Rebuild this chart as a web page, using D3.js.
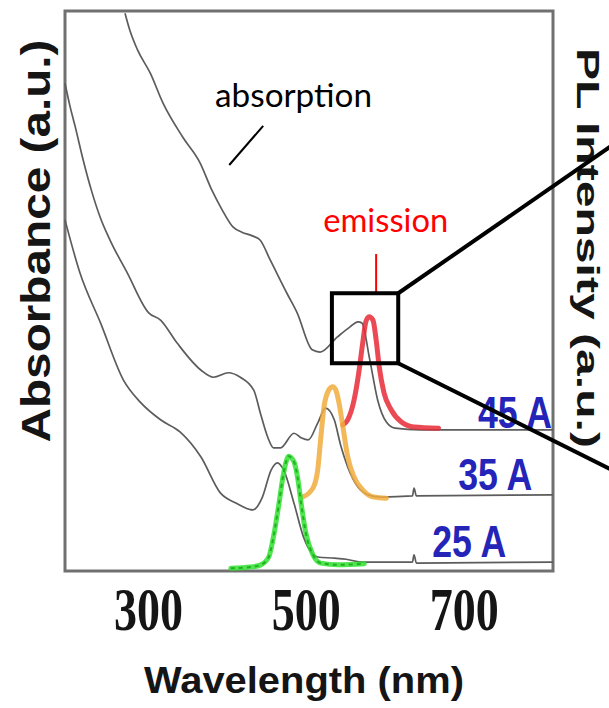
<!DOCTYPE html>
<html>
<head>
<meta charset="utf-8">
<script src="https://cdnjs.cloudflare.com/ajax/libs/d3/7.8.5/d3.min.js"></script>
<style>
    body { margin: 0; background: #ffffff; }
</style>
</head>
<body>
<div id="chart1"></div>
<script>
// absorption spectra, [wavelength nm, absorbance a.u.]
let abs45 = [[271,99.6],[277,96.6],[287,93.0],[303,88.9],[319,83.6],[344,77.5],[366,72.9],[381,68.0],[394,64.5],
    [408,61.4],[419,60.5],[433,59.8],[442,59.1],[455,55.5],[476,49.6],[489,46.1],[508,39.5],[518,39.1],[540,41.8],
    [556,43.6],[566,44.5],[571,44.3],[581,37.7],[591,30.5],[602,26.6],[613,25.5],[645,25.2],[813,25.2]];
let abs35 = [[195,87.1],[201,83.2],[208,79.3],[218,73.4],[229,67.7],[240,63.0],[252,59.1],[274,53.2],[301,46.1],
    [316,44.8],[337,40.7],[367,35.9],[383,34.6],[402,35.4],[417,34.6],[434,32.3],[443,27.9],[452,23.8],[459,22.0],
    [468,22.0],[485,24.6],[494,23.8],[503,23.4],[515,26.4],[525,29.1],[536,27.0],[544,22.5],[553,18.6],[566,15.0],
    [579,13.6],[595,13.2],[635,13.4],[637,14.8],[640,13.4],[813,13.6]];
let abs25 = [[195,62.7],[214,53.2],[240,44.3],[269,34.1],[290,30.2],[316,27.0],[341,24.8],[367,20.4],[392,13.9],
    [412,12.1],[433,10.9],[445,13.2],[456,18.0],[464,19.3],[472,18.0],[485,12.1],[497,6.1],[515,2.5],[536,2.3],
    [551,2.1],[570,1.6],[635,1.6],[637,2.9],[640,1.4],[813,1.6]];

// PL emission spectra, [wavelength nm, intensity a.u.]
let pl25 = [[405,0.5],[430,0.7],[443,1.1],[453,2.5],[459,6.1],[466,12.1],[471,16.8],[475,19.5],[478,20.5],
    [485,19.5],[490,16.3],[494,12.1],[500,6.8],[509,2.9],[519,1.4],[541,1.1],[574,1.3]];
let pl35 = [[496,13.2],[509,14.8],[515,18.0],[519,23.9],[523,29.3],[529,32.3],[534,32.9],[538,32.3],[542,30.0],
    [547,25.7],[553,20.4],[561,16.8],[572,14.5],[586,13.2],[602,13.0]];
let pl45 = [[547,26.1],[553,27.0],[561,30.5],[567,35.4],[572,40.7],[576,44.5],[580,45.4],[585,44.8],[589,41.3],
    [593,36.4],[599,31.8],[608,28.8],[621,26.6],[637,25.7],[668,25.5]];

let xTicks = [300, 500, 700];
let sizeLabels = ["45 A", "35 A", "25 A"];

let width = 609;
let height = 708;
let plotLeft = 65, plotRight = 553, plotTop = 11, plotBottom = 571;

let svg = d3.select("#chart1")
    .append("svg")
    .attr("width", width)
    .attr("height", height);

let x = d3.scaleLinear().domain([195, 813]).range([plotLeft, plotRight]);
let y = d3.scaleLinear().domain([0, 100]).range([plotBottom, plotTop]);

let line = d3.line()
    .x((d) => x(d[0]))
    .y((d) => y(d[1]))
    .curve(d3.curveMonotoneX);

// frame
svg.append("rect")
    .attr("x", plotLeft)
    .attr("y", plotTop)
    .attr("width", plotRight - plotLeft)
    .attr("height", plotBottom - plotTop)
    .style("fill", "none")
    .style("stroke", "#707070")
    .style("stroke-width", 3);

// absorption curves
svg.selectAll(".abs")
    .data([abs45, abs35, abs25])
    .enter().append("path")
    .attr("class", "abs")
    .attr("d", line)
    .style("fill", "none")
    .style("stroke", "#5c5c5c")
    .style("stroke-width", 1.7);

// emission curves
let plColors = ["#e82a36", "#f0ac3c", "#2fe02f"];
svg.selectAll(".pl")
    .data([pl45, pl35, pl25])
    .enter().append("path")
    .attr("class", "pl")
    .attr("d", line)
    .style("fill", "none")
    .style("stroke", (d, i) => plColors[i])
    .style("stroke-width", 5)
    .style("stroke-linecap", "round")
    .style("opacity", 0.85);

// dashed texture on the green peak
svg.append("path")
    .attr("d", line(pl25))
    .style("fill", "none")
    .style("stroke", "#22b022")
    .style("stroke-width", 2)
    .style("stroke-dasharray", "4,4");

// x axis labels
let xAxis = svg.append("g")
    .attr("transform", "translate(0," + plotBottom + ")")
    .call(d3.axisBottom(x).tickValues(xTicks).tickSize(0).tickPadding(0));
xAxis.select(".domain").remove();
xAxis.selectAll("text")
    .attr("y", 59)
    .attr("dy", 0)
    .attr("textLength", 69)
    .attr("lengthAdjust", "spacingAndGlyphs")
    .style("font-family", "'Liberation Serif', serif")
    .style("font-weight", "bold")
    .style("font-size", "61px")
    .style("fill", "#151515");

svg.append("text")
    .attr("x", 304)
    .attr("y", 693)
    .attr("text-anchor", "middle")
    .attr("textLength", 320)
    .attr("lengthAdjust", "spacingAndGlyphs")
    .style("font-family", "'Liberation Sans', Arial, sans-serif")
    .style("font-weight", "bold")
    .style("font-size", "36px")
    .style("fill", "#151515")
    .text("Wavelength (nm)");

svg.append("text")
    .attr("transform", "translate(50,241) rotate(-90)")
    .attr("text-anchor", "middle")
    .attr("textLength", 403)
    .attr("lengthAdjust", "spacingAndGlyphs")
    .style("font-family", "'Liberation Sans', Arial, sans-serif")
    .style("font-weight", "bold")
    .style("font-size", "41px")
    .style("fill", "#151515")
    .text("Absorbance (a.u.)");

svg.append("text")
    .attr("transform", "translate(577,248) rotate(90)")
    .attr("text-anchor", "middle")
    .attr("textLength", 400)
    .attr("lengthAdjust", "spacingAndGlyphs")
    .style("font-family", "'Liberation Sans', Arial, sans-serif")
    .style("font-weight", "bold")
    .style("font-size", "32px")
    .style("fill", "#151515")
    .text("PL Intensity (a.u.)");

// size labels (nm position, baseline value)
let labelPos = [[718, 25.5], [693, 14.5], [660, 2.5]];
svg.selectAll(".size")
    .data(sizeLabels)
    .enter().append("text")
    .attr("class", "size")
    .attr("x", (d, i) => x(labelPos[i][0]))
    .attr("y", (d, i) => y(labelPos[i][1]))
    .attr("textLength", 74)
    .attr("lengthAdjust", "spacingAndGlyphs")
    .style("font-family", "'Liberation Sans', Arial, sans-serif")
    .style("font-weight", "bold")
    .style("font-size", "44px")
    .style("fill", "#2424b8")
    .text((d) => d);

// annotations
svg.append("text")
    .attr("x", x(385))
    .attr("y", y(82.9))
    .attr("textLength", 157)
    .attr("lengthAdjust", "spacingAndGlyphs")
    .style("font-family", "Lato, 'Open Sans', sans-serif")
    .style("font-size", "33px")
    .style("fill", "#000000")
    .text("absorption");

svg.append("line")
    .attr("x1", x(446)).attr("y1", y(79.5))
    .attr("x2", x(403)).attr("y2", y(72.5))
    .style("stroke", "#000000")
    .style("stroke-width", 2);

svg.append("text")
    .attr("x", x(522))
    .attr("y", y(60.5))
    .attr("textLength", 125)
    .attr("lengthAdjust", "spacingAndGlyphs")
    .style("font-family", "Lato, 'Open Sans', sans-serif")
    .style("font-size", "33px")
    .style("fill", "#ff0000")
    .text("emission");

svg.append("line")
    .attr("x1", x(589)).attr("y1", y(56.6))
    .attr("x2", x(589)).attr("y2", y(49.6))
    .style("stroke", "#ff0000")
    .style("stroke-width", 2);

// zoom box and lines running off to the right
let box = [533, 617, 37.1, 49.6];
svg.append("rect")
    .attr("x", x(box[0]))
    .attr("y", y(box[3]))
    .attr("width", x(box[1]) - x(box[0]))
    .attr("height", y(box[2]) - y(box[3]))
    .style("fill", "none")
    .style("stroke", "#000000")
    .style("stroke-width", 4);

svg.append("line")
    .attr("x1", x(box[1])).attr("y1", y(box[3]))
    .attr("x2", x(898)).attr("y2", y(77))
    .style("stroke", "#000000")
    .style("stroke-width", 4);

svg.append("line")
    .attr("x1", x(box[1])).attr("y1", y(box[2]))
    .attr("x2", x(898)).attr("y2", y(17.3))
    .style("stroke", "#000000")
    .style("stroke-width", 4);
</script>
</body>
</html>
